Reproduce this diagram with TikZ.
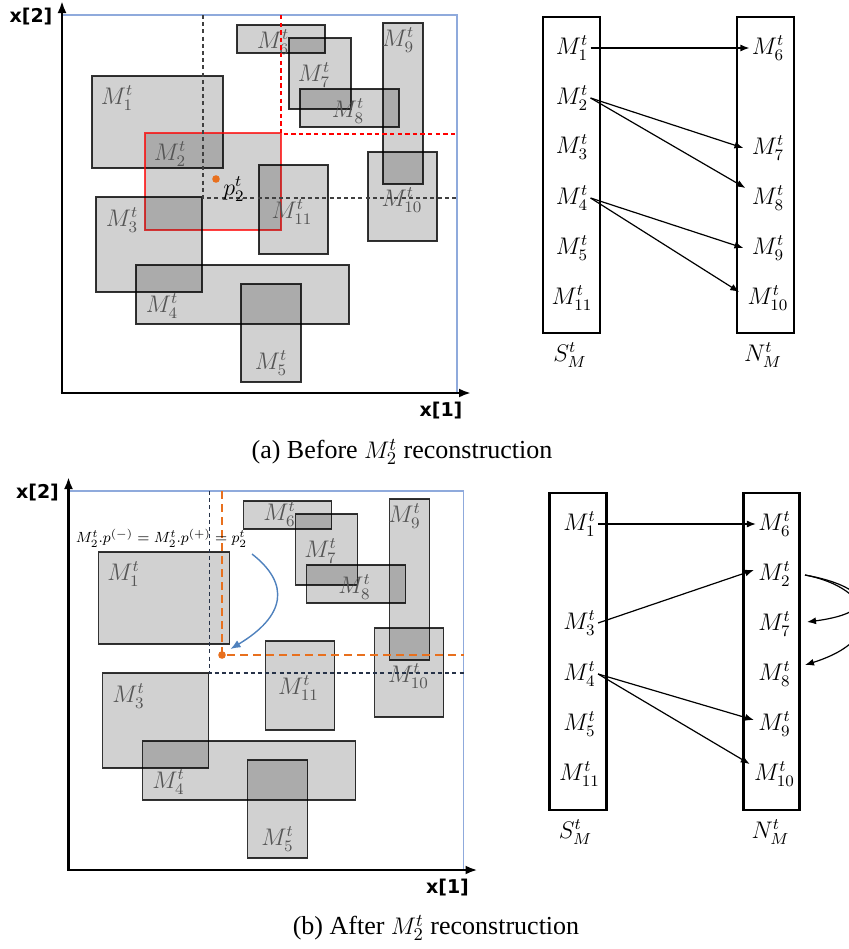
\documentclass[tikz,border=0pt]{standalone}
\usepackage{fontspec}
\newfontfamily\axfont{DejaVu Sans}
\newfontfamily\capfont{Liberation Serif}
\usetikzlibrary{arrows.meta}
\definecolor{lblgray}{HTML}{555555}
\definecolor{frameblue}{HTML}{8FAADC}
\definecolor{curveblue}{HTML}{4F81BD}
\definecolor{porange}{HTML}{E8701E}
\definecolor{dnavy}{HTML}{263248}
\definecolor{dgray}{HTML}{404040}
\tikzset{
  mbox/.style={fill=black, fill opacity=0.18, draw=black, draw opacity=0.8, line width=0.6pt},
  redbox/.style={fill=black, fill opacity=0.18, draw=red, draw opacity=0.75, line width=0.7pt},
  mlab/.style={text=lblgray, font=\fontsize{12}{14}\selectfont, inner sep=1pt},
  llab/.style={text=black, font=\fontsize{12}{14}\selectfont, inner sep=1pt},
  axlab/.style={font=\axfont\bfseries\fontsize{9.5}{11}\selectfont, inner sep=0pt},
  axisline/.style={-{Latex[length=6pt,width=4.5pt]}, line width=1.3pt},
  framebox/.style={frameblue, line width=0.6pt},
  listbox/.style={draw=black, line width=1.4pt},
  link/.style={-{Latex[length=4.5pt,width=3.5pt]}, line width=0.6pt},
  gdash/.style={dgray, dash pattern=on 2pt off 1.6pt, line width=0.6pt},
  ndash/.style={dnavy, dash pattern=on 2pt off 1.6pt, line width=0.6pt},
  rdash/.style={red, dash pattern=on 2.2pt off 1.6pt, line width=0.6pt},
  odash/.style={porange, dash pattern=on 4pt off 2.5pt, line width=0.7pt},
  caption/.style={font=\capfont\fontsize{13}{15}\selectfont, inner sep=1pt},
  bluearrow/.style={curveblue, line width=0.7pt, -{Latex[length=5pt,width=4pt]}},
}
\begin{document}
\begin{tikzpicture}[x=0.5pt,y=-0.5pt]
\useasboundingbox (0,0) rectangle (848,949);

% ================= (a) top panel =================
\draw[framebox] (62,15) -- (457,15) -- (457,393);
\coordinate (oa) at (62,393);
\coordinate (ya) at (62,1);
\coordinate (xa) at (471,393);
\draw[axisline] (oa) -- (ya);
\draw[axisline] ([xshift=-0.65pt]oa) -- (xa);
\node[axlab] (ax2a) at (31,17) {x[2]};
\node[axlab] (ax1a) at (441,411) {x[1]};

\draw[mbox] (92,76) rectangle (223,168);
\node[mlab] (a1) at (117,98) {$M_1^t$};
\draw[redbox] (145,133) rectangle (281,230);
\node[mlab] (a2) at (170,154) {$M_2^t$};
\foreach \n/\xa/\ya/\xb/\yb/\lx/\ly in {
  3/96/197/202/292/122/220,
  4/136/265/349/324/162/306,
  5/241/284/301/382/271/363,
  6/237/25/325/53/273/42,
  7/289/38/351/109/314/75,
  8/300/89/399/127/348/111,
  9/383/23/423/184/398/40,
  10/368/152/437/241/402/200,
  11/259/165/328/254/292/212}{
  \draw[mbox] (\xa,\ya) rectangle (\xb,\yb);
  \node[mlab] (a\n) at (\lx,\ly) {$M_{\n}^t$};
}
\draw[gdash] (203,15) -- (203,198) -- (457,198);
\draw[rdash] (281,15) -- (281,134) -- (457,134);
\coordinate (pa) at (216,179);
\fill[porange] (pa) circle[radius=1.9pt];
\node[llab] (p2a) at (234,189) {$p_2^t$};

% lists (a)
\draw[listbox] (543,17) rectangle (600,333);
\draw[listbox] (737,17) rectangle (794,333);
\foreach \n/\y in {1/48,2/98,3/147,4/198,5/248,11/298}{
  \node[llab] (s\n) at (572,\y) {$M_{\n}^t$};
}
\foreach \n/\y in {6/48,7/148,8/198,9/248,10/298}{
  \node[llab] (n\n) at (768,\y) {$M_{\n}^t$};
}
\node[llab] (sma) at (570,355) {$S_M^t$};
\node[llab] (nma) at (763,355) {$N_M^t$};
\draw[link] (s1.east) -- (n6.west);
\draw[link] (s2.east) -- ([xshift=-3pt]n7.west);
\draw[link] (s2.east) -- ([xshift=-2pt,yshift=5pt]n8.west);
\draw[link] (s4.east) -- ([xshift=-3pt]n9.west);
\draw[link] (s4.east) -- ([xshift=-3pt,yshift=3pt]n10.west);

\node[caption] (capa) at (402,452) {(a) Before $M_2^t$ reconstruction};

% ================= (b) bottom panel =================
\begin{scope}[shift={(6.5,476)}]
\draw[framebox] (62,15) -- (457,15) -- (457,394);
\coordinate (ob) at (62,394);
\coordinate (yb) at (62,1);
\coordinate (xb) at (471,394);
\draw[axisline] (ob) -- (yb);
\draw[axisline] ([xshift=-0.65pt]ob) -- (xb);
\node[axlab] (ax2b) at (31,17) {x[2]};
\node[axlab] (ax1b) at (441,412) {x[1]};

\draw[mbox] (92,76) rectangle (223,168);
\node[mlab] (b1) at (117,98) {$M_1^t$};
\foreach \n/\xa/\ya/\xb/\yb/\lx/\ly in {
  3/96/197/202/292/122/220,
  4/136/265/349/324/162/306,
  5/241/284/301/382/271/363,
  6/237/25/325/53/273/38,
  7/289/38/351/109/314/75,
  8/300/89/399/127/348/111,
  9/383/23/423/184/398/40,
  10/368/152/437/241/402/200,
  11/259/165/328/254/292/212}{
  \draw[mbox] (\xa,\ya) rectangle (\xb,\yb);
  \node[mlab] (b\n) at (\lx,\ly) {$M_{\n}^t$};
}
\draw[ndash] (203,15) -- (203,197) -- (457,197);
\coordinate (pb) at (215.5,179);
\coordinate (pbtop) at (215.5,15);
\coordinate (pbright) at (457,179);
\draw[odash] (pbtop) -- (pb) -- (pbright);
\fill[porange] (pb) circle[radius=1.9pt];
\node[text=black, font=\fontsize{8}{10}\selectfont, inner sep=0pt] (formula) at (155,62)
  {\scalebox{0.92}{$M_2^t.p^{(-)} = M_2^t.p^{(+)} = p_2^t$}};
\coordinate (bstart) at (245.5,78);
\coordinate (bend) at (224,173);
\draw[bluearrow] (bstart) .. controls (284,108) and (279,140) .. (bend);

% lists (b)
\draw[listbox] (543,17) rectangle (600,334);
\draw[listbox] (737,17) rectangle (793,334);
\foreach \n/\y in {1/48,3/147,4/198,5/248,11/298}{
  \node[llab] (bs\n) at (573,\y) {$M_{\n}^t$};
}
\foreach \n/\y in {6/48,2/98,7/148,8/198,9/248,10/298}{
  \node[llab] (bn\n) at (768,\y) {$M_{\n}^t$};
}
\node[llab] (smb) at (569,356) {$S_M^t$};
\node[llab] (nmb) at (764,356) {$N_M^t$};
\draw[link] (bs1.east) -- (bn6.west);
\draw[link] (bs3.east) -- ([xshift=-1pt,yshift=2pt]bn2.west);
\draw[link] (bs4.east) -- ([xshift=-1pt,yshift=2pt]bn9.west);
\draw[link] (bs4.east) -- ([xshift=-1pt,yshift=5pt]bn10.west);
\coordinate (c2) at (798.5,99);
\coordinate (c7) at (800.5,146);
\coordinate (c8) at (798.5,189);
\draw[link] (c2) .. controls (860,110) and (876,136) .. (c7);
\draw[link] (c2) .. controls (866,112) and (884,162) .. (c8);
\end{scope}

\node[caption] (capb) at (436,928) {(b) After $M_2^t$ reconstruction};
\end{tikzpicture}
\end{document}
